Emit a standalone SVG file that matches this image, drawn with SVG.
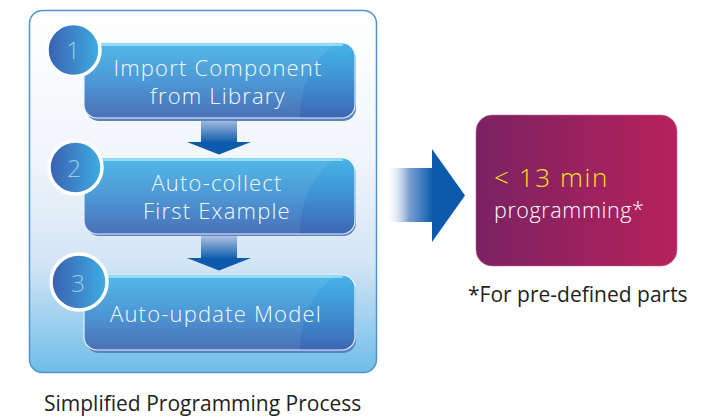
<svg xmlns="http://www.w3.org/2000/svg" width="722" height="417" viewBox="0 0 722 417">
<defs>
<linearGradient id="panel" x1="0" y1="0" x2="0" y2="1">
<stop offset="0" stop-color="#ffffff"/>
<stop offset="0.4" stop-color="#f1f6fb"/>
<stop offset="0.7" stop-color="#d3e5f5"/>
<stop offset="1" stop-color="#6fbde9"/>
</linearGradient>
<linearGradient id="box" x1="0" y1="0" x2="0" y2="1">
<stop offset="0" stop-color="#46b4e7"/>
<stop offset="0.5" stop-color="#3f91d2"/>
<stop offset="1" stop-color="#3e66b3"/>
</linearGradient>
<linearGradient id="circ" x1="0" y1="0" x2="1" y2="0">
<stop offset="0" stop-color="#3a5fae"/>
<stop offset="1" stop-color="#3eaee3"/>
</linearGradient>
<linearGradient id="shaft" x1="0" y1="0" x2="0" y2="1">
<stop offset="0" stop-color="#b4c6e6"/>
<stop offset="1" stop-color="#0b5aab"/>
</linearGradient>
<linearGradient id="bigshaft" x1="0" y1="0" x2="1" y2="0">
<stop offset="0" stop-color="#ffffff" stop-opacity="0"/>
<stop offset="0.5" stop-color="#7d9fd2"/>
<stop offset="1" stop-color="#0c5cab"/>
</linearGradient>
<linearGradient id="purple" x1="0" y1="0" x2="1" y2="0">
<stop offset="0" stop-color="#7a2262"/>
<stop offset="1" stop-color="#b7215b"/>
</linearGradient>
<style>
.box{fill:url(#box);stroke:#e8f4fc;stroke-width:1.2}
.shadow{fill:#5b82c4}
.hl{fill:#8fdaf8}
.gloss{fill:#ffffff;opacity:0.07}
.circle{fill:url(#circ);stroke:#ffffff;stroke-width:3.5}
.num{font-family:"Open Sans","Liberation Sans",sans-serif;font-weight:300;font-size:24px;fill:#9ccbec;text-anchor:middle}
.step{font-family:"Open Sans","Liberation Sans",sans-serif;font-weight:300;font-size:22px;fill:#f4f9fd;letter-spacing:1.2px;text-anchor:middle}
.arrowhead{fill:#0b5aab}
.cap{font-family:"Open Sans","Liberation Sans",sans-serif;font-size:21px;fill:#231f20}
.res{font-family:"Open Sans","Liberation Sans",sans-serif;font-weight:300}
</style>
</defs>

<g id="panel-box">
<rect x="29.5" y="10.5" width="347" height="362" rx="13" fill="url(#panel)" stroke="#4f94d2" stroke-width="1.5"/>
</g>

<g id="connectors">
<rect x="201" y="118" width="36" height="25" fill="url(#shaft)"/>
<polygon class="arrowhead" points="187,142 251,142 219,154.5"/>
<rect x="201" y="235" width="36" height="24" fill="url(#shaft)"/>
<polygon class="arrowhead" points="187,258 251,258 219,270.5"/>
<rect x="385" y="168" width="48" height="54" fill="url(#bigshaft)"/>
<polygon class="arrowhead" points="432,149 465,195.5 432,242"/>
</g>

<g id="step1">
<rect class="shadow" x="86" y="46" width="270" height="75" rx="13"/>
<rect class="box" x="84" y="43" width="271" height="75" rx="13"/>
<rect class="hl" x="96" y="43.5" width="247" height="2.5" rx="1"/>
<path class="gloss" d="M97,44 H335 Q300,70 300,118 H97 Q85,118 85,105 V56 Q85,44 97,44 Z"/>
<text class="step" x="218" y="76">Import Component</text>
<text class="step" x="218" y="104">from Library</text>
<circle class="circle" cx="73.5" cy="50" r="26.5"/>
<text class="num" x="73" y="59">1</text>
</g>

<g id="step2">
<rect class="shadow" x="86" y="161" width="270" height="75" rx="13"/>
<rect class="box" x="84" y="158" width="271" height="76" rx="13"/>
<rect class="hl" x="96" y="158.5" width="247" height="2.5" rx="1"/>
<path class="gloss" d="M97,159 H335 Q300,185 300,234 H97 Q85,234 85,221 V171 Q85,159 97,159 Z"/>
<text class="step" x="217" y="191">Auto-collect</text>
<text class="step" x="217" y="219">First Example</text>
<circle class="circle" cx="75.5" cy="167.5" r="26.5"/>
<text class="num" x="74" y="177">2</text>
</g>

<g id="step3">
<rect class="shadow" x="86" y="278" width="270" height="75" rx="13"/>
<rect class="box" x="84" y="275" width="271" height="75" rx="13"/>
<rect class="hl" x="96" y="275.5" width="247" height="2.5" rx="1"/>
<path class="gloss" d="M97,276 H335 Q300,302 300,350 H97 Q85,350 85,337 V288 Q85,276 97,276 Z"/>
<text class="step" x="216" y="322">Auto-update Model</text>
<circle class="circle" cx="79" cy="282" r="28"/>
<text class="num" x="78" y="292">3</text>
</g>

<g id="result">
<rect x="476" y="115" width="201" height="151" rx="16" fill="url(#purple)" stroke="#c46a9a" stroke-width="0.6"/>
<text class="res" x="494" y="187" font-size="26" letter-spacing="1.6" fill="#f4e21a">&lt; 13 min</text>
<text class="res" x="494" y="218" font-size="21.5" letter-spacing="0.6" fill="#ffffff">programming*</text>
</g>

<g id="footnote">
<text class="cap" x="468" y="302">*For pre-defined parts</text>
</g>

<g id="caption">
<text class="cap" x="44" y="411">Simplified Programming Process</text>
</g>
</svg>
